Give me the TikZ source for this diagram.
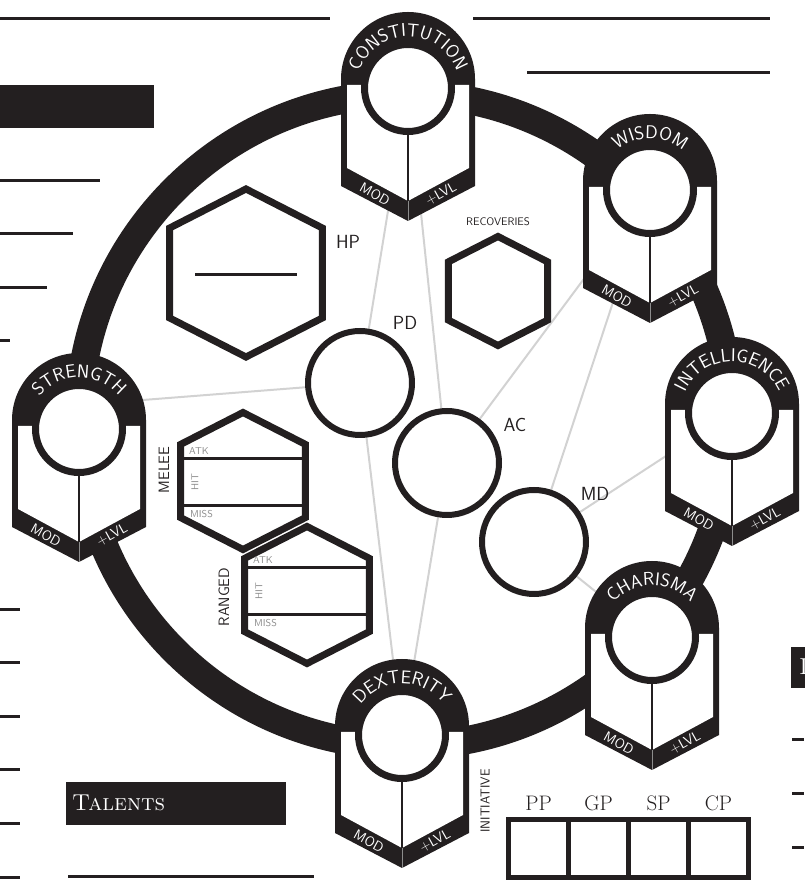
\documentclass[tikz,border=0pt]{standalone}
\usepackage{fontspec}
\usepackage{tikz}
\usetikzlibrary{positioning, calc, decorations.text, backgrounds}
\definecolor{ink}{RGB}{35,31,32}
\definecolor{linkgray}{RGB}{210,210,210}
\definecolor{notegray}{RGB}{140,140,140}
\newcommand{\arcfont}{\color{white}\sffamily\fontsize{18.5}{18.5}\selectfont}

\begin{document}
\begin{tikzpicture}[x=1pt, y=1pt,
    rule/.style={ink, line width=3pt},
    hexline/.style={draw=ink, fill=white, line width=7pt, line join=miter},
    hexpath/.style={insert path={+(0,#1) -- +({0.91*#1},{0.535*#1}) -- +({0.91*#1},{-0.535*#1}) -- +(0,{-#1}) -- +({-0.91*#1},{-0.535*#1}) -- +({-0.91*#1},{0.535*#1}) -- cycle}},
    statcircle/.style={circle, draw=ink, fill=white, line width=7pt, minimum size=87pt, inner sep=0pt},
    defcircle/.style={circle, draw=ink, fill=white, line width=6pt, minimum size=104pt, inner sep=0pt},
    link/.style={linkgray, line width=2pt},
    biglbl/.style={font=\sffamily\fontsize{19}{19}\selectfont, text=ink},
    sidelbl/.style={font=\sffamily\fontsize{15}{15}\selectfont, text=ink, rotate=90, inner sep=0pt},
    rowlbl/.style={font=\sffamily\fontsize{10}{10}\selectfont, text=notegray, inner sep=0pt},
    badgelbl/.style={font=\sffamily\fontsize{14}{14}\selectfont, text=white, inner sep=0pt},
    coinbox/.style={draw=ink, line width=5pt, minimum width=60pt, minimum height=58pt, inner sep=0pt, outer sep=0pt},
    coinlbl/.style={font=\rmfamily\fontsize{21}{21}\selectfont, text=ink}
]
\useasboundingbox (0,0) rectangle (804,886);

% writing lines and header bars
\draw[rule] (0,867) -- (330,867);
\draw[rule] (473,867) -- (770,867);
\draw[rule] (527,813) -- (770,813);
\fill[ink] (0,758) rectangle (154,801);
\foreach \y/\len in {705/100, 652/73, 598/47, 545/10}
    \draw[rule] (0,\y) -- (\len,\y);
\foreach \y in {276,223,169,116,62,8}
    \draw[rule] (0,\y) -- (20,\y);
\foreach \y in {146,92,38}
    \draw[rule] (792,\y) -- (804,\y);
\node[fill=ink, minimum width=220pt, minimum height=43pt, inner sep=0pt, anchor=south west] (talents) at (66,61) {};
\node[anchor=west, inner sep=0pt, text=white, font=\rmfamily\fontsize{23}{23}\selectfont] at ([xshift=6pt]talents.west) {\textsc{Talents}};
\draw[rule] (68,9) -- (314,9);
\node[fill=ink, minimum width=16pt, minimum height=41pt, inner sep=0pt, anchor=south west] (dbox) at (791,198) {};
\node[anchor=west, inner sep=0pt, text=white, font=\rmfamily\fontsize{23}{23}\selectfont] at (799,219) {\textsc{D}};

% hit points and recoveries
\coordinate (hp) at (246,613);
\draw[hexline] (hp) [hexpath=84];
\draw[ink, line width=3pt] ($(hp)+(-51,-2)$) -- ($(hp)+(51,-2)$);
\node[biglbl] at ($(hp)+(102,31)$) {HP};
\coordinate (rec) at (498,595);
\draw[hexline] (rec) [hexpath=54.5];
\node[font=\sffamily\fontsize{11}{11}\selectfont, text=ink] at ($(rec)+(0,69)$) {RECOVERIES};

% melee and ranged attack blocks
\foreach \nm/\hx/\hy/\ta/\tb/\lbl/\lx/\ly in {mel/243/405/22/-25/MELEE/-79/11, rng/307/291/27/-20/RANGED/-83/-2} {
    \coordinate (\nm) at (\hx,\hy);
    \draw[hexline] (\nm) [hexpath=68.5];
    \draw[ink, line width=3pt] ($(\nm)+(-62.3,\ta)$) -- ($(\nm)+(62.3,\ta)$);
    \draw[ink, line width=3pt] ($(\nm)+(-62.3,\tb)$) -- ($(\nm)+(62.3,\tb)$);
    \node[rowlbl, anchor=west] at ($(\nm)+(-54,\ta+8)$) {ATK};
    \node[rowlbl, rotate=90] at ($(\nm)+(-48,\ta/2+\tb/2)$) {HIT};
    \node[rowlbl, anchor=west] at ($(\nm)+(-53,\tb-8.5)$) {MISS};
    \node[sidelbl] at ($(\nm)+(\lx,\ly)$) {\lbl};
}

% defences
\node[defcircle] (pd) at (360,503) {};
\node[defcircle] (ac) at (447,423) {};
\node[defcircle] (md) at (534,344) {};
\node[biglbl] at ($(pd)+(45,60)$) {PD};
\node[biglbl] at ($(ac)+(68,38)$) {AC};
\node[biglbl] at ($(md)+(61,48)$) {MD};

% ability badges
\foreach \nm/\bx/\by/\lbl in {con/408/798/CONSTITUTION, wis/650/696/WISDOM, int/732/473/INTELLIGENCE, cha/652/249/CHARISMA, str/79/457/STRENGTH, dex/402/151/DEXTERITY} {
    \begin{scope}[shift={(\bx,\by)}]
        \fill[ink] (-67,9) arc[start angle=180, end angle=0, radius=67] -- (67,-98) -- (0,-133) -- (-67,-98) -- cycle;
        \fill[white] (-61,3) -- (-61,-80) -- (0,-113) -- (61,-80) -- (61,3) -- cycle;
        \draw[ink, line width=1.5pt] (0,-40) -- (0,-113);
        \draw[notegray, line width=0.6pt] (0,-113) -- (0,-133);
        \node[statcircle] (\nm) at (0,0) {};
        \path[decorate, decoration/.expanded={text along path, text align=center, text={|\noexpand\arcfont|\lbl}}]
            (180:51.5) arc[start angle=180, end angle=0, radius=51.5];
        \node[badgelbl, rotate=-29] at (-33,-106) {MOD};
        \node[badgelbl, rotate=29] at (33,-106) {+LVL};
    \end{scope}
}
\node[font=\sffamily\fontsize{13}{13}\selectfont, text=ink, rotate=90] at ($(dex)+(83,-66)$) {INITIATIVE};

% coins
\node[coinbox] (pp) at (538.5,37.5) {};
\node[coinbox, right=0pt of pp] (gp) {};
\node[coinbox, right=0pt of gp] (sp) {};
\node[coinbox, right=0pt of sp] (cp) {};
\foreach \c/\t in {pp/PP, gp/GP, sp/SP, cp/CP}
    \node[coinlbl, above=5pt of \c] {\t};

% ring and links behind everything
\begin{pgfonlayer}{background}
    \coordinate (hub) at (405,466);
    \draw[ink, line width=28pt] (hub) circle[radius=326];
    \draw[link] ([yshift=24pt]str.center) -- (pd);
    \draw[link] (con) -- (pd);
    \draw[link] (con) -- (ac);
    \draw[link] (wis) -- (ac);
    \draw[link] (wis) -- (md);
    \draw[link] (int) -- (md);
    \draw[link] (cha) -- (md);
    \draw[link] (dex) -- (pd);
    \draw[link] (dex) -- (ac);
\end{pgfonlayer}
\end{tikzpicture}
\end{document}
